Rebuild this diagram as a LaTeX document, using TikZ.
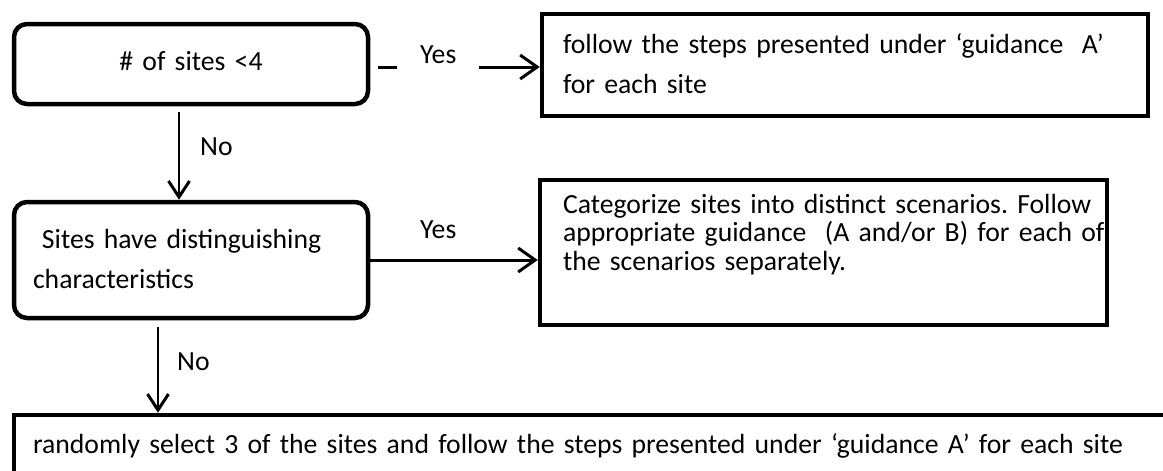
\documentclass[tikz,border=0pt]{standalone}
\usepackage{fontspec}
\setmainfont{Carlito}
\usetikzlibrary{arrows.meta}
\setlength{\lineskiplimit}{-50pt}
\frenchspacing
\begin{document}
\begin{tikzpicture}[x=1pt,y=-1pt,
  every node/.style={font=\fontsize{27.7}{40}\selectfont},
  box/.style={draw, line width=4.5pt, inner ysep=0pt, anchor=north west},
  rbox/.style={box, rounded corners=13pt},
  conn/.style={line width=1.8pt, -{Straight Barb[length=16pt,width=21pt,line width=3pt]}},
  yesconn/.style={line width=3pt, -{Straight Barb[length=17pt,width=24pt]}},
  lbl/.style={inner sep=0pt, anchor=base west},
]
\useasboundingbox (0,0) rectangle (1163,471);

% decision and action boxes
\node[rbox, inner xsep=0pt, text width=354pt, align=center,
      text height=46pt, text depth=34pt] (b1) at (11.75,21.75) {\# of sites <4};
\node[box, inner xsep=21pt, text width=564pt, align=left,
      text height=39pt, text depth=63pt] (b2) at (539.75,11.75)
      {\mbox{follow the steps presented under ‘guidance\ \ A’}\\
       \mbox{for each site}};
\node[rbox, inner xsep=19pt, text width=316pt, align=left,
      text height=46pt, text depth=70pt] (b3) at (11.75,199.75)
      {\hspace*{9pt}Sites have distinguishing\\characteristics};
\node[box, inner xsep=23pt, text width=521pt, align=left,
      text height=33pt, text depth=112pt,
      font=\fontsize{27.7}{28.5}\selectfont] (b4) at (537.75,177.75)
      {\mbox{Categorize sites into distinct scenarios. Follow}\\
       \mbox{appropriate guidance\ \ (A and/or B) for each of}\\
       \mbox{the scenarios separately.}};
\node[box, inner xsep=19pt, text width=1150pt, align=left,
      text height=38pt, text depth=30pt] (b5) at (11.75,412.75)
      {\mbox{randomly select 3 of the sites and follow the steps presented under ‘guidance A’ for each site}};

% connectors
\draw[yesconn, shorten <=8pt] ([yshift=-3pt]b1.east) -- ([yshift=-3pt]b1.east -| b2.west);
\node[lbl, fill=white, inner xsep=23pt, inner ysep=3pt, text depth=8pt] (yes1) at (397,63) {Yes\hspace{17pt}};

\draw[conn, shorten <=6pt] ([xshift=-12pt]b1.south) -- ([xshift=-12pt]b1.south |- b3.north);
\node[lbl] (no1) at (200,155) {No};

\draw[yesconn] (b3.east) -- (b3.east -| b4.west);
\node[lbl] (yes2) at (420,238) {Yes};

\draw[conn, shorten <=7pt] ([xshift=-33pt]b3.south) -- ([xshift=-33pt]b3.south |- b5.north);
\node[lbl] (no2) at (177,370) {No};
\end{tikzpicture}
\end{document}
